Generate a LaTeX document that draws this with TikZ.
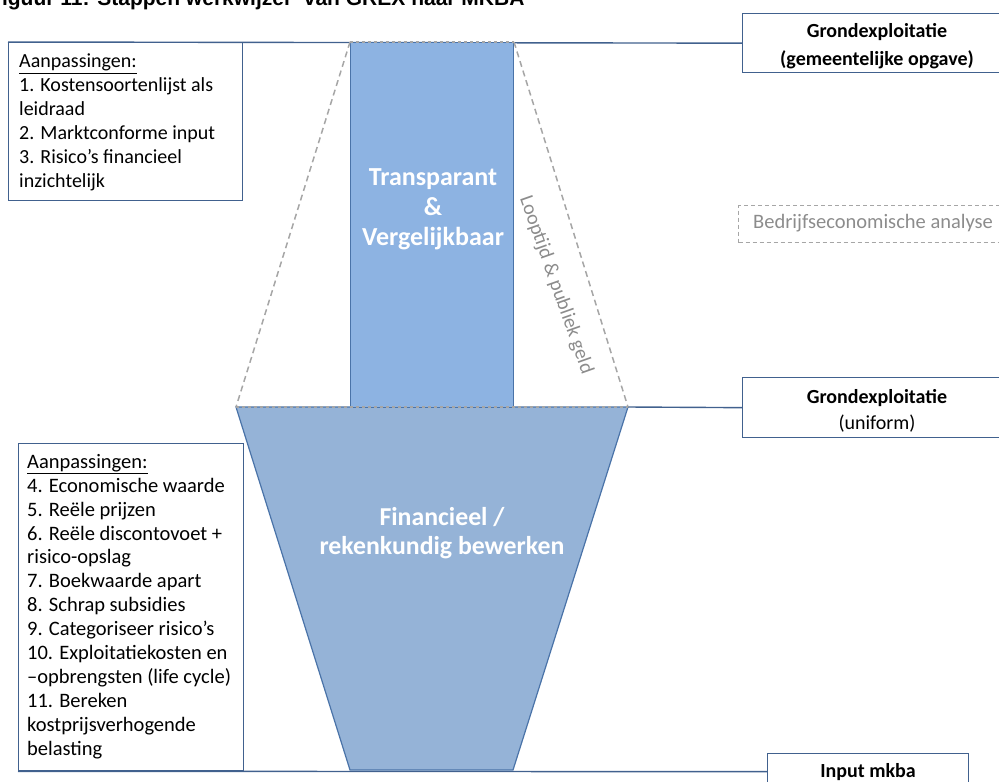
\documentclass[tikz,border=0pt]{standalone}
\usepackage{fontspec}
\setmainfont{Carlito}
\newfontfamily\titlefont{Liberation Sans}
\definecolor{boxline}{HTML}{41618E}
\definecolor{rectfill}{HTML}{8DB3E2}
\definecolor{funfill}{HTML}{95B3D7}
\definecolor{shapeline}{HTML}{4A73A8}
\definecolor{dashgray}{HTML}{A6A6A6}
\definecolor{txtgray}{HTML}{8C8C8C}
\begin{document}
\begin{tikzpicture}[x=1pt,y=-1pt,
  box/.style={draw=boxline, line width=1.3pt, fill=white, inner sep=0pt, anchor=north west},
  link/.style={draw=boxline, line width=1.4pt},
  listtext/.style={anchor=north west, align=left, inner sep=0pt},
  bigwhite/.style={text=white, font=\bfseries\fontsize{26}{30}\selectfont, align=center},
  rbtext/.style={font=\bfseries\fontsize{20}{28}\selectfont, align=center},
  guide/.style={draw=dashgray, dash pattern=on 6pt off 4pt, line width=1.5pt},
  guidetop/.style={draw=dashgray, dash pattern=on 3pt off 3pt, line width=1.6pt}
]
\useasboundingbox (0,0) rectangle (999,782);

% title (clipped at the top of the page)
\node[anchor=base west, inner sep=0pt, font=\titlefont\bfseries\fontsize{21}{24}\selectfont] (title) at (-11,5)
  {Figuur 11: Stappen werkwijzer ‘van GREX naar MKBA’};

% right boxes
\node[box, minimum width=270, minimum height=59] (gr1) at (742,13) {};
\node[rbtext] (gr1t) at (877,46) {Grondexploitatie\\(gemeentelijke opgave)};
\node[box, minimum width=270, minimum height=60] (gr2) at (742,377) {};
\node[rbtext, font=\bfseries\fontsize{20}{26}\selectfont] (gr2t) at (877,411) {Grondexploitatie\\ \mdseries(uniform)};
\node[box, minimum width=201, minimum height=36] (im) at (767,753) {};
\node[rbtext] (imt) at (868,772) {Input mkba};

% left boxes
\node[box, minimum width=234, minimum height=158] (ub) at (8,42) {};
\node[listtext, font=\fontsize{20}{24}\selectfont] (ubt) at (19,54)
  {\underline{Aanpassingen:}\\1. Kostensoortenlijst als\\leidraad\\2. Marktconforme input\\3. Risico’s financieel\\inzichtelijk};
\node[box, minimum width=225, minimum height=327] (lb) at (18,443) {};
\node[listtext, font=\fontsize{20.5}{23.9}\selectfont] (lbt) at (27,454)
  {\underline{Aanpassingen:}\\4. Economische waarde\\5. Reële prijzen\\6. Reële discontovoet +\\risico-opslag\\7. Boekwaarde apart\\8. Schrap subsidies\\9. Categoriseer risico’s\\10. Exploitatiekosten en\\–opbrengsten (life cycle)\\11. Bereken\\kostprijsverhogende\\belasting};

% connector lines
\coordinate (ftl) at (236,407);
\coordinate (ftr) at (628,407);
\coordinate (fbl) at (350,770);
\coordinate (fbr) at (513,770);
\draw[link] (ub.north west) -- (gr1.west);
\draw[link] (ftr) -- (gr2.west);
\draw[link] (lb.south west) -- (im.west);

% funnel
\draw[fill=funfill, draw=shapeline, line width=1.2pt] (ftl) -- (ftr) -- (fbr) -- (fbl) -- cycle;
\node[bigwhite, font=\bfseries\fontsize{25.8}{29}\selectfont] (fin) at (442,533) {Financieel /\\rekenkundig bewerken};

% column
\node[draw=shapeline, fill=rectfill, line width=1pt, minimum width=163, minimum height=365, anchor=north west, inner sep=0pt] (col) at (350,42) {};
\node[bigwhite] (tv) at (433,209) {Transparant\\\&\\Vergelijkbaar};

% dashed guides
\draw[guide] (col.north west) -- (ftl);
\draw[guide] (col.north east) -- (ftr);
\draw[guidetop] (col.north west) -- (col.north east);
\draw[guidetop] (ftl) -- (ftr);
\node[rotate=-70.5, text=txtgray, font=\fontsize{20}{24}\selectfont] (lp) at (556,285) {Looptijd \& publiek geld};

% business analysis
\node[draw=dashgray, dash pattern=on 4pt off 3pt, line width=1.1pt, minimum width=280, minimum height=37, anchor=north west, inner sep=0pt] (be) at (738,205) {};
\node[anchor=west, text=txtgray, font=\fontsize{20.5}{24}\selectfont, inner sep=0pt] (bet) at (753,223) {Bedrijfseconomische analyse};
\end{tikzpicture}
\end{document}
